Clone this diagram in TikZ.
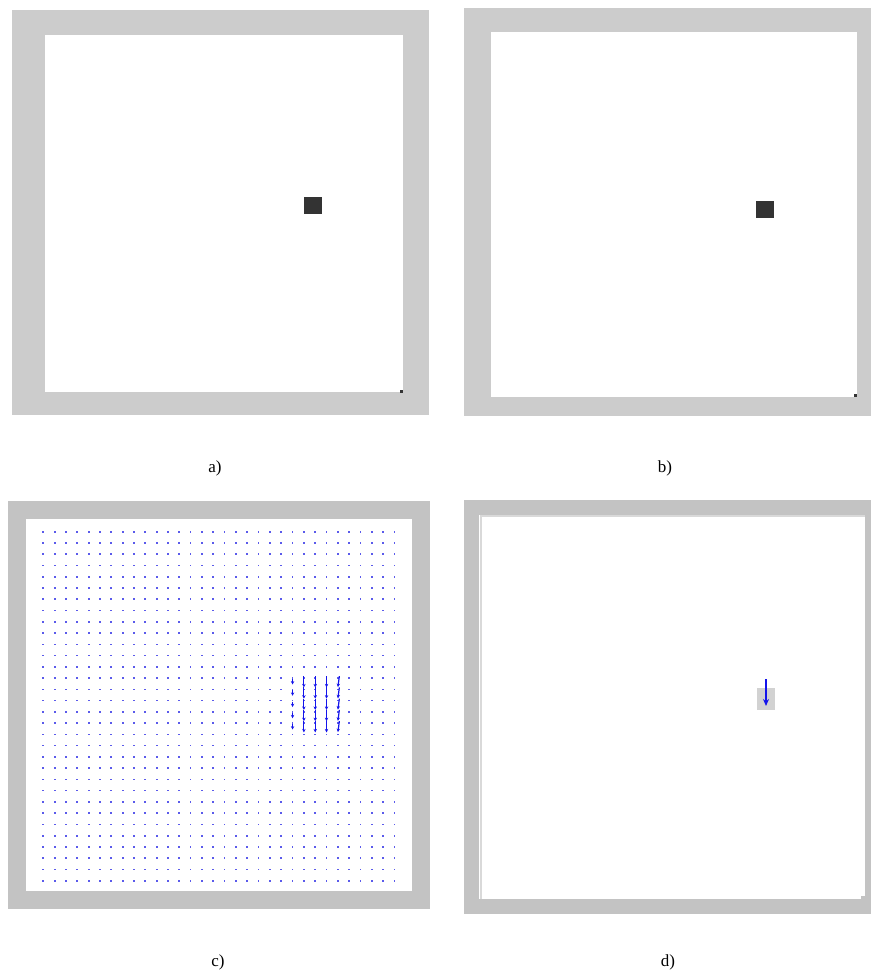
\documentclass[tikz,border=0pt]{standalone}
\usepackage{fontspec}
\setmainfont{Liberation Serif}
\usetikzlibrary{arrows.meta}
\definecolor{frameA}{RGB}{204,204,204}
\definecolor{frameC}{RGB}{195,195,195}
\definecolor{darksq}{RGB}{51,51,51}
\definecolor{vecblue}{RGB}{20,20,235}
\definecolor{dotblue}{RGB}{90,90,235}
\tikzset{
  lbl/.style={font=\fontsize{17}{20}\selectfont, inner sep=0pt},
  vec/.style={draw=vecblue, line width=1.2pt, -{Stealth[length=3.5pt,width=3.4pt]}},
  gdot/.style={fill=dotblue},
}
\begin{document}
\begin{tikzpicture}[x=1pt,y=-1pt]
\useasboundingbox (0,0) rectangle (871,976);
\fill[white] (0,0) rectangle (871,976);
% ---- panel a
\fill[frameA] (12,10) rectangle (429,415);
\fill[white] (45,35) rectangle (403,392);
\fill[darksq] (304,197) rectangle (322,214);
\fill[darksq] (399.5,389.5) rectangle (402.5,392.5);
\node[lbl] (la) at (215,468) {a)};
% ---- panel b
\fill[frameA] (464,8) rectangle (871,416);
\fill[white] (491,32) rectangle (857,397);
\fill[darksq] (756,201) rectangle (774,218);
\fill[darksq] (853.5,393.5) rectangle (856.5,396.5);
\node[lbl] (lb) at (665,468) {b)};
% ---- panel c
\fill[frameC] (8,501) rectangle (430,909);
\fill[white] (26,519) rectangle (412,891);
\foreach \i in {0,...,31}{
  \foreach \j in {0,...,31}{
    \fill[gdot] ({43.3+11.33*\i-0.9},{531.7+11.26*\j-0.8}) rectangle ++(1.8,1.6);
  }
}
% vectors
\foreach \i in {23,24,25}{
  \foreach \j in {13,...,17}{
    \draw[vec] ({43.3+11.33*\i},{531.7+11.26*\j-2}) -- ++(0,11.3);
  }
}
\foreach \j in {13,...,17}{
  \draw[vec] ({43.3+11.33*26+1.5},{531.7+11.26*\j-2}) -- ++(-1.5,11);
  \draw[vec,line width=0.9pt] ({43.3+11.33*22},{531.7+11.26*\j+1}) -- ++(0,5.5);
}
\node[lbl] (lc) at (218,962) {c)};
% ---- panel d
\fill[frameC] (464,500) rectangle (871,914);
\fill[white] (479,515) rectangle (865,899);
\draw[gray!30, line width=2pt] (481,899) -- (481,516) -- (865,516);
\fill[frameC] (861,896) rectangle (865,899);
\fill[gray!35] (757,688) rectangle (775,710);
\draw[vec, line width=1.5pt, -{Stealth[length=7pt,width=6pt]}] (766,679) -- (766,706);
\node[lbl] (ld) at (668,962) {d)};
\end{tikzpicture}
\end{document}
